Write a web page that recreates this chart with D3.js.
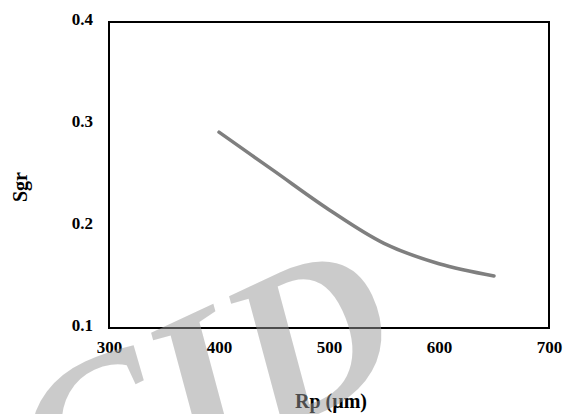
<!DOCTYPE html>
<html>
<head>
<meta charset="utf-8">
<script src="https://cdn.jsdelivr.net/npm/d3@7"></script>
<style>
  body { margin: 0; background: #fff; }
  text { font-family: "Liberation Serif", "Times New Roman", serif; font-weight: bold; }
</style>
</head>
<body>
<svg id="chart" width="563" height="414"></svg>
<script>
// data
const rp = [400, 450, 500, 550, 600, 650];
const sgr = [0.292, 0.254, 0.216, 0.183, 0.163, 0.151];
const xTicks = [300, 400, 500, 600, 700];
const yTicks = [0.1, 0.2, 0.3, 0.4];

const svg = d3.select("#chart");
const plot = { left: 109, right: 549, top: 22, bottom: 328 };

// scales
const x = d3.scaleLinear().domain([300, 700]).range([plot.left, plot.right]);
const y = d3.scaleLinear().domain([0.1, 0.4]).range([plot.bottom, plot.top]);

// frame
svg.append("rect")
    .attr("x", plot.left)
    .attr("y", plot.top)
    .attr("width", plot.right - plot.left)
    .attr("height", plot.bottom - plot.top)
    .attr("fill", "none")
    .attr("stroke", "#000")
    .attr("stroke-width", 2);

// x axis labels
const xAxis = svg.append("g")
    .attr("transform", `translate(0,${plot.bottom})`)
    .call(d3.axisBottom(x).tickValues(xTicks).tickSize(0));
xAxis.select(".domain").remove();
xAxis.selectAll("text")
    .attr("y", 25)
    .attr("dy", 0)
    .attr("font-size", 17)
    .attr("fill", "#000")
    .style("font-family", "Liberation Serif, serif")
    .style("font-weight", "bold");

// y axis labels
const yAxis = svg.append("g")
    .attr("transform", `translate(${plot.left},0)`)
    .call(d3.axisLeft(y).tickValues(yTicks).tickSize(0).tickPadding(16)
        .tickFormat(d3.format(".1f")));
yAxis.select(".domain").remove();
yAxis.selectAll("text")
    .attr("font-size", 17)
    .attr("fill", "#000")
    .attr("dy", "0.15em")
    .style("font-family", "Liberation Serif, serif")
    .style("font-weight", "bold");

// curve
const line = d3.line()
    .x((d, i) => x(rp[i]))
    .y(d => y(d))
    .curve(d3.curveCatmullRom);

svg.append("path")
    .datum(sgr)
    .attr("d", line)
    .attr("fill", "none")
    .attr("stroke", "#7f7f7f")
    .attr("stroke-width", 3.5)
    .attr("stroke-linecap", "round");

// axis titles
svg.append("text")
    .attr("x", 331)
    .attr("y", 408)
    .attr("text-anchor", "middle")
    .attr("font-size", 20)
    .text("Rp (µm)");

svg.append("text")
    .attr("transform", "translate(27,187) rotate(-90)")
    .attr("text-anchor", "middle")
    .attr("font-size", 20)
    .text("Sgr");

// watermark
svg.append("text")
    .attr("transform", "translate(58,535) rotate(-25)")
    .attr("font-size", 220)
    .style("font-family", "Liberation Serif, serif")
    .style("font-weight", "bold")
    .style("font-style", "italic")
    .attr("fill", "#999")
    .attr("opacity", 0.5)
    .text("CID");
</script>
</body>
</html>
